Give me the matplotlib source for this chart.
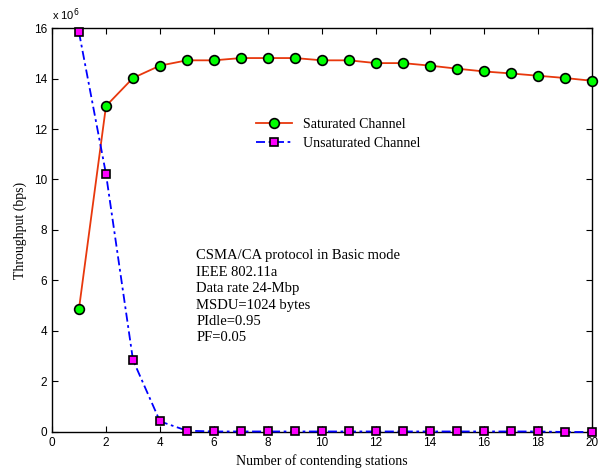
import numpy as np
import matplotlib
matplotlib.use('Agg')
import matplotlib.pyplot as plt
from matplotlib.ticker import FuncFormatter

stations = list(range(1, 21))
saturated = [4.88, 12.91, 14.02, 14.51, 14.72, 14.72, 14.81, 14.81, 14.81, 14.72,
             14.72, 14.61, 14.61, 14.51, 14.39, 14.28, 14.2, 14.11, 14.02, 13.91]
unsaturated = [15.83, 10.22, 2.85, 0.42, 0.05, 0.02, 0.02, 0.02, 0.02, 0.02,
               0.02, 0.02, 0.02, 0.02, 0.02, 0.02, 0.02, 0.02, 0.0, 0.0]
scale = 1e6
sat_bps = [v * scale for v in saturated]
unsat_bps = [v * scale for v in unsaturated]

serif = ['Liberation Serif', 'DejaVu Serif']
sans = ['Liberation Sans', 'DejaVu Sans']

fig = plt.figure(figsize=(6.16, 4.70), dpi=100)
ax = fig.add_axes([0.0844, 0.0809, 0.8766, 0.8595])

ax.plot(stations, sat_bps, color='#e8380d', lw=1.3, marker='o', ms=7,
        mfc='#00ff00', mec='black', mew=1.2, label='Saturated Channel',
        clip_on=False, zorder=3)
ax.plot(stations, unsat_bps, color='#0000ff', lw=1.3, dashes=(5, 2, 1.5, 2),
        marker='s', ms=5.5, mfc='#ff00ff', mec='black', mew=1.2,
        label='Unsaturated Channel', clip_on=False, zorder=3)

ax.set_xlim(0, 20)
ax.set_ylim(0, 16e6)
ax.set_xticks(range(0, 21, 2))
ax.set_yticks(np.arange(0, 17e6, 2e6))
ax.yaxis.set_major_formatter(FuncFormatter(lambda v, p: '%g' % (v / scale)))
ax.tick_params(direction='in', top=True, right=True, length=4, labelsize=8.5)
for lab in ax.get_xticklabels() + ax.get_yticklabels():
    lab.set_family(sans)
for s in ax.spines.values():
    s.set_linewidth(1.0)

ax.text(0.0, 1.012, r'x 10$^{6}$', transform=ax.transAxes, fontsize=8,
        family=sans, ha='left', va='bottom')

ax.set_xlabel('Number of contending stations', family=serif, fontsize=10, labelpad=4)
ax.set_ylabel('Throughput (bps)', family=serif, fontsize=10, labelpad=5)

leg = ax.legend(loc='upper left', bbox_to_anchor=(0.36, 0.802), frameon=False,
                prop={'family': serif, 'size': 10}, handlelength=2.6,
                labelspacing=0.45, borderpad=0.2)

info = ('CSMA/CA protocol in Basic mode\nIEEE 802.11a\nData rate 24-Mbp\n'
        'MSDU=1024 bytes\nPIdle=0.95\nPF=0.05')
ax.text(0.267, 0.452, info, transform=ax.transAxes, family=serif, fontsize=10.5,
        va='top', ha='left', linespacing=1.34)

fig.savefig('out.png', dpi=100)
